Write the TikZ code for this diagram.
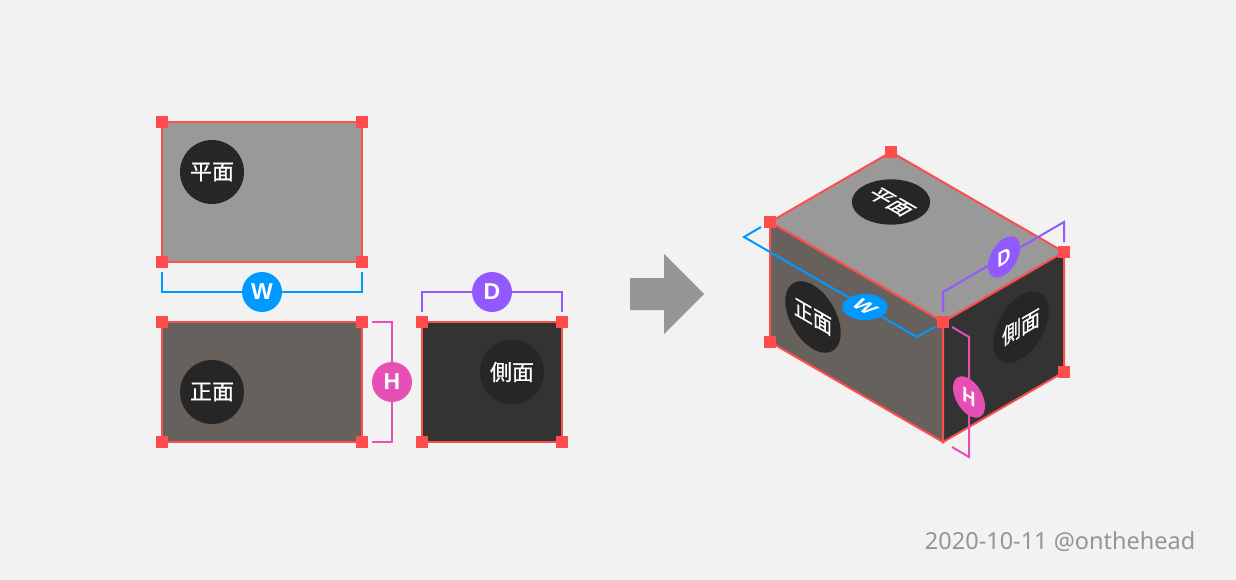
\documentclass[tikz,border=0pt]{standalone}
\usepackage{fontspec}
\setmainfont{Noto Sans}
\newfontfamily\cjkfont[FakeBold=0.7]{Noto Sans CJK JP}
\newfontfamily\badgefont{Liberation Sans}
\usetikzlibrary{positioning}
\definecolor{paper}{HTML}{F2F2F2}
\definecolor{edgered}{HTML}{FF4D4D}
\definecolor{planfill}{HTML}{999999}
\definecolor{frontfill}{HTML}{66615C}
\definecolor{sidefill}{HTML}{333333}
\definecolor{tagfill}{HTML}{262626}
\definecolor{wblue}{HTML}{0099FF}
\definecolor{dpurple}{HTML}{9159FF}
\definecolor{hpink}{HTML}{E64FB3}
\definecolor{arrowgrey}{HTML}{959595}
\tikzset{
  face/.style={draw=edgered, line width=2pt, inner sep=0pt, outer sep=0pt},
  corner/.style={fill=edgered, minimum size=12pt, inner sep=0pt, outer sep=0pt},
  tag/.style={circle, fill=tagfill, text=white, minimum size=64pt, inner sep=0pt, font=\cjkfont\fontsize{22}{22}\selectfont},
  badge/.style={circle, text=white, minimum size=40pt, inner sep=0pt, font=\badgefont\bfseries\fontsize{23}{23}\selectfont},
  smallbadge/.style={circle, text=white, minimum size=37pt, inner sep=0pt, font=\badgefont\bfseries\fontsize{21}{21}\selectfont},
  measure/.style={line width=2pt},
  onplan/.style={cm={.866,-.5,.866,.5,(0,0)}},
  onfront/.style={cm={.866,-.5,0,1,(0,0)}},
  onside/.style={cm={.866,.5,0,1,(0,0)}},
}
\begin{document}
\begin{tikzpicture}[x=1pt, y=-1pt]
  \fill[paper] (0,0) rectangle (1236,580);
  \useasboundingbox (0,0) rectangle (1236,580);

  \node[face, fill=planfill, minimum width=200pt, minimum height=140pt] (plan) at (262,192) {};
  \node[face, fill=frontfill, minimum width=200pt, minimum height=120pt] (front) at (262,382) {};
  \node[face, fill=sidefill, minimum width=140pt, minimum height=120pt] (side) at (492,382) {};
  \node[tag] (plantag) at (212,172) {平面};
  \node[tag] (fronttag) at (212,392) {正面};
  \node[tag] (sidetag) at (512,372) {側面};

  \foreach \n in {plan, front, side}
    \foreach \a in {north west, north east, south west, south east}
      \node[corner] (\n-\a) at (\n.\a) {};

  \coordinate (wa) at (162,272);
  \coordinate (wb) at (362,272);
  \coordinate (wc) at (162,292);
  \coordinate (wd) at (362,292);
  \coordinate (da) at (422,312);
  \coordinate (db) at (562,312);
  \coordinate (dc) at (422,292);
  \coordinate (dd) at (562,292);
  \coordinate (ha) at (372,322);
  \coordinate (hb) at (372,442);
  \coordinate (hc) at (392,322);
  \coordinate (hd) at (392,442);
  \draw[measure, wblue] (wa) -- (wc) -- (wd) -- (wb);
  \draw[measure, dpurple] (da) -- (dc) -- (dd) -- (db);
  \draw[measure, hpink] (ha) -- (hc) -- (hd) -- (hb);
  \node[badge, fill=wblue] (wbadge) at (262,292) {W};
  \node[badge, fill=dpurple] (dbadge) at (492,292) {D};
  \node[badge, fill=hpink] (hbadge) at (392,382) {H};

  \fill[arrowgrey] (630,278) -- (664,278) -- (664,254) -- (704,294) -- (664,334) -- (664,310) -- (630,310) -- cycle;

  \coordinate (left) at (770,222);
  \coordinate (back) at (891,152);
  \coordinate (right) at (1064,252);
  \coordinate (near) at (943,322);
  \coordinate (leftlow) at (770,342);
  \coordinate (nearlow) at (943,442);
  \coordinate (rightlow) at (1064,372);
  \draw[face, fill=planfill] (left) -- (back) -- (right) -- (near) -- cycle;
  \draw[face, fill=frontfill] (left) -- (near) -- (nearlow) -- (leftlow) -- cycle;
  \draw[face, fill=sidefill] (near) -- (right) -- (rightlow) -- (nearlow) -- cycle;
  \node[tag, onplan] (isoplantag) at (891,202) {平面};
  \node[tag, onfront] (isofronttag) at (813,317) {正面};
  \node[tag, onside] (isosidetag) at (1021,327) {側面};

  \coordinate (iwa) at (761,227);
  \coordinate (iwb) at (934.5,327);
  \coordinate (iwc) at (744,237);
  \coordinate (iwd) at (917,337);
  \coordinate (ida) at (943,312);
  \coordinate (idb) at (1064,242);
  \coordinate (idc) at (943,292);
  \coordinate (idd) at (1064,222);
  \coordinate (iha) at (952,327);
  \coordinate (ihb) at (952,447);
  \coordinate (ihc) at (969,337);
  \coordinate (ihd) at (969,457);
  \draw[measure, wblue] (iwa) -- (iwc) -- (iwd) -- (iwb);
  \draw[measure, dpurple] (ida) -- (idc) -- (idd) -- (idb);
  \draw[measure, hpink] (iha) -- (ihc) -- (ihd) -- (ihb);
  \node[smallbadge, fill=wblue, onplan] (iwbadge) at (865,307) {W};
  \node[smallbadge, fill=dpurple, onside] (idbadge) at (1004,257) {D};
  \node[smallbadge, fill=hpink, onfront] (ihbadge) at (969,397) {H};

  \foreach \c in {left, back, right, near, leftlow, rightlow}
    \node[corner] (iso-\c) at (\c) {};

  \node[text=arrowgrey, font=\fontsize{23.5}{24}\selectfont, anchor=east, inner sep=0pt] (credit) at (1195.5,542) {2020-10-11 @onthehead};
\end{tikzpicture}
\end{document}
